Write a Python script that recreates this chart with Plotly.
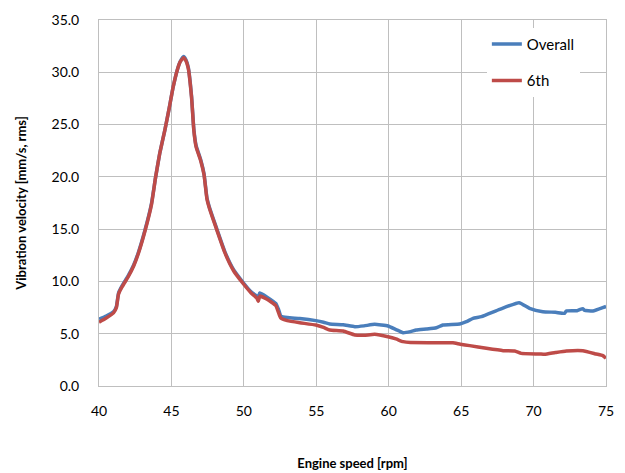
import plotly.graph_objects as go

overall_x = [40.0, 40.5, 41.0, 41.2, 41.35, 41.6, 42.0, 42.4, 42.7, 43.17, 43.63, 43.9, 44.2, 44.55,
             44.85, 45.12, 45.4, 45.6, 45.84, 46.0, 46.16, 46.39, 46.55, 46.7, 47.03, 47.25, 47.45,
             47.6, 48.0, 48.7, 49.3, 49.95, 50.5, 50.9, 51.0, 51.1, 51.6, 52.2, 52.4, 52.55, 53.0,
             53.86, 54.97, 55.5, 55.93, 56.85, 57.66, 58.3, 59.03, 59.95, 60.5, 60.99, 61.5, 61.9,
             62.6, 63.29, 63.74, 64.9, 65.36, 65.82, 66.4, 67.66, 69.0, 69.72, 70.64, 71.5, 72.14,
             72.26, 73.0, 73.4, 73.5, 74.1, 74.95, 75.0]
overall_y = [6.4, 6.7, 7.1, 7.6, 8.9, 9.6, 10.5, 11.6, 12.7, 14.9, 17.5, 19.9, 22.3, 24.5,
             26.6, 28.6, 30.2, 31.0, 31.5, 31.2, 30.5, 27.7, 24.5, 23.0, 21.6, 20.3, 18.0,
             17.2, 15.55, 12.8, 11.1, 9.9, 9.0, 8.6, 8.5, 8.9, 8.5, 7.9, 7.3, 6.7, 6.55,
             6.45, 6.25, 6.1, 5.93, 5.86, 5.67, 5.75, 5.9, 5.74, 5.4, 5.1, 5.2, 5.35,
             5.45, 5.57, 5.83, 5.93, 6.15, 6.47, 6.63, 7.33, 7.97, 7.43, 7.1, 7.05, 6.95,
             7.17, 7.2, 7.4, 7.25, 7.17, 7.58, 7.6]

sixth_x = [40.0, 40.5, 41.0, 41.2, 41.35, 41.6, 42.0, 42.4, 42.7, 43.17, 43.63, 43.9, 44.2, 44.55,
           44.85, 45.12, 45.4, 45.6, 45.84, 46.0, 46.16, 46.39, 46.55, 46.7, 47.03, 47.25, 47.45,
           47.6, 48.0, 48.7, 49.3, 49.95, 50.5, 50.9, 51.0, 51.1, 51.6, 52.2, 52.4, 52.55, 53.0,
           53.86, 54.97, 55.5, 55.93, 56.85, 57.66, 58.3, 59.03, 59.95, 60.5, 60.99, 61.5, 63.29,
           64.43, 64.94, 65.59, 66.74, 67.9, 68.7, 69.15, 70.41, 70.76, 71.5, 72.26, 73.4, 74.32,
           74.78, 75.0]
sixth_y = [6.1, 6.5, 7.0, 7.5, 8.8, 9.5, 10.4, 11.5, 12.6, 14.8, 17.4, 19.9, 22.3, 24.5,
           26.6, 28.6, 30.2, 31.0, 31.4, 31.1, 30.4, 27.6, 24.4, 22.9, 21.5, 20.2, 17.9,
           17.1, 15.45, 12.7, 11.0, 9.8, 8.9, 8.4, 8.1, 8.6, 8.3, 7.7, 7.0, 6.5, 6.25,
           6.05, 5.83, 5.6, 5.35, 5.26, 4.88, 4.85, 4.94, 4.71, 4.5, 4.24, 4.15, 4.14,
           4.14, 4.0, 3.86, 3.6, 3.38, 3.35, 3.12, 3.06, 3.03, 3.2, 3.35, 3.38, 3.06,
           2.9, 2.65]

x_ticks = [40, 45, 50, 55, 60, 65, 70, 75]
y_ticks = [0, 5, 10, 15, 20, 25, 30, 35]

FONT = "Lato"
GRID = "#BFBFBF"

fig = go.Figure()
fig.add_trace(go.Scatter(x=overall_x, y=overall_y, mode="lines", name="Overall",
                         legendgroup="a",
                         line=dict(color="#4A7EBB", width=3.5, shape="spline", smoothing=0.4)))
fig.add_trace(go.Scatter(x=sixth_x, y=sixth_y, mode="lines", name="6th",
                         legendgroup="b",
                         line=dict(color="#BE4B48", width=3.5, shape="spline", smoothing=0.4)))

fig.update_layout(
    width=617, height=465,
    margin=dict(l=91, r=19, t=12, b=87),
    paper_bgcolor="white", plot_bgcolor="white",
    font=dict(family=FONT, size=14, color="#000000"),
    showlegend=True,
    legend=dict(x=0.765, y=0.979, xanchor="left", yanchor="top",
                bgcolor="white", borderwidth=0, tracegroupgap=14,
                traceorder="grouped",
                font=dict(family=FONT, size=15, color="#000000")),
    xaxis=dict(range=[40, 75], tickvals=x_ticks, ticktext=[str(v) for v in x_ticks],
               showgrid=True, gridcolor=GRID, gridwidth=1,
               showline=True, linecolor=GRID, linewidth=1, mirror=True,
               zeroline=False, ticks="", ticklabelstandoff=12, automargin=False,
               title=dict(text="<b>Engine speed [rpm]</b>", standoff=41,
                          font=dict(family=FONT, size=13))),
    yaxis=dict(range=[0, 35], tickvals=y_ticks, ticktext=[f"{v:.1f}" for v in y_ticks],
               showgrid=True, gridcolor=GRID, gridwidth=1,
               showline=True, linecolor=GRID, linewidth=1, mirror=True,
               zeroline=False, ticks="", ticklabelstandoff=16, automargin="left",
               title=dict(text="<b>Vibration velocity [mm/s, rms]</b>", standoff=21,
                          font=dict(family=FONT, size=13))),
)

fig.write_html("out.html")
